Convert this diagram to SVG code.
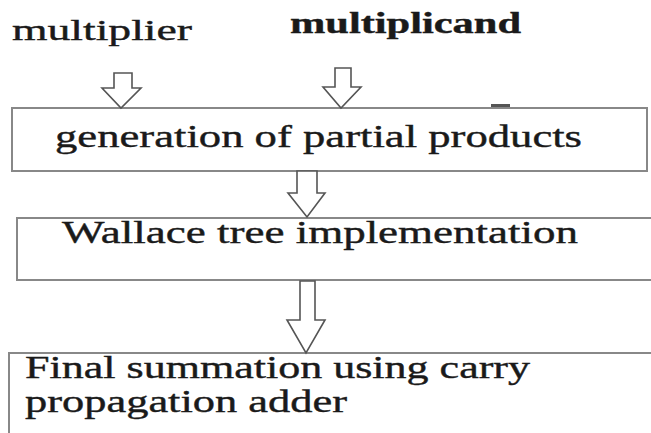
<svg xmlns="http://www.w3.org/2000/svg" width="651" height="433" viewBox="0 0 651 433">
<style>
.box{fill:#fff;stroke:#888;stroke-width:2}
.arr{fill:#fff;stroke:#555;stroke-width:1.6;stroke-linejoin:miter}
text{font-family:"Liberation Serif","Times New Roman",serif;fill:#1a1a1a;stroke:#1a1a1a;stroke-width:0.4}
.lbl{font-size:32px}
.top{font-size:30px}
</style>
<rect width="651" height="433" fill="#fff"/>
<g id="multiplier"><text class="top" x="12" y="40" textLength="180" lengthAdjust="spacingAndGlyphs">multiplier</text></g>
<g id="multiplicand"><text class="top" x="290" y="33" font-weight="bold" textLength="231" lengthAdjust="spacingAndGlyphs">multiplicand</text></g>
<g id="box1"><rect class="box" x="12" y="108" width="635" height="63"/>
<text class="lbl" x="55" y="147" textLength="527" lengthAdjust="spacingAndGlyphs">generation of partial products</text></g>
<g id="box2"><rect class="box" x="17" y="218" width="645" height="62"/>
<text class="lbl" x="62" y="243" textLength="516" lengthAdjust="spacingAndGlyphs">Wallace tree implementation</text></g>
<g id="box3"><rect class="box" x="9" y="353" width="660" height="100"/>
<text class="lbl" x="25" y="378" textLength="505" lengthAdjust="spacingAndGlyphs">Final summation using carry</text>
<text class="lbl" x="25" y="412" textLength="322" lengthAdjust="spacingAndGlyphs">propagation adder</text></g>
<g id="connectors">
<polygon class="arr" points="114,73 132,73 132,88 141,88 121,108 102,88 114,88"/>
<polygon class="arr" points="335,68 351,68 351,87 361,87 341,108 323,87 335,87"/>
<polygon class="arr" points="297,171 317,171 317,193 325,193 307,217 288,193 297,193"/>
<polygon class="arr" points="300,281 315,281 315,320 325,320 306,353 287,320 300,320"/>
<rect x="491" y="104" width="19" height="3" fill="#555"/>
</g>
</svg>
